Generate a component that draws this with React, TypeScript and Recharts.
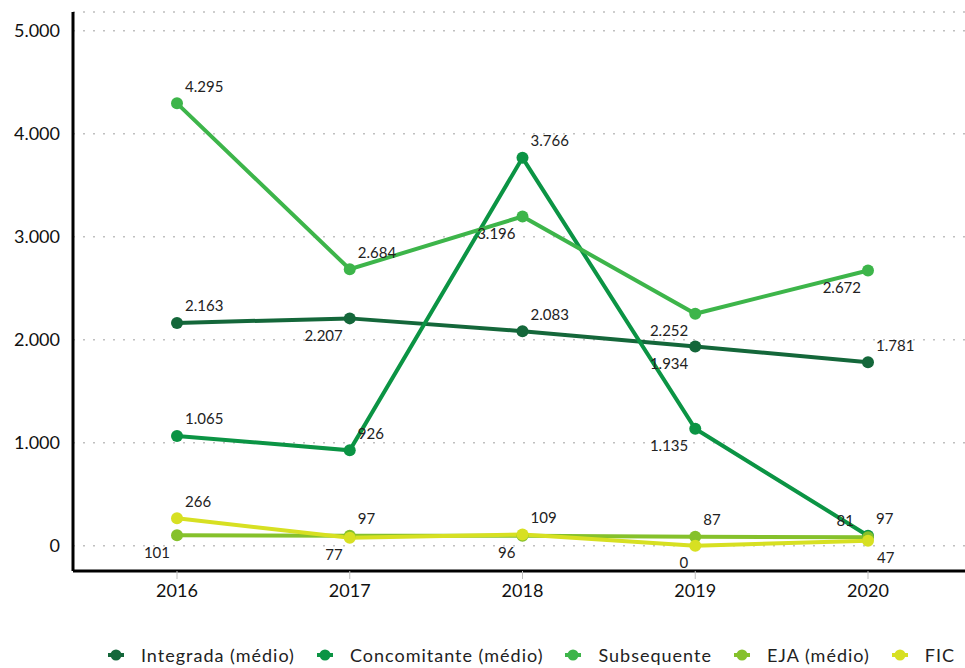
import React from 'react';
import { LineChart, Line, XAxis, YAxis, CartesianGrid, Legend, LabelList } from 'recharts';

const YEARS = ['2016', '2017', '2018', '2019', '2020'];
const INTEGRADA = [2163, 2207, 2083, 1934, 1781];
const CONCOMITANTE = [1065, 926, 3766, 1135, 97];
const SUBSEQUENTE = [4295, 2684, 3196, 2252, 2672];
const EJA = [101, 97, 96, 87, 81];
const FIC = [266, 77, 109, 0, 47];
const Y_TICKS = [0, 1000, 2000, 3000, 4000, 5000];

// label placement (styling): ar = above-right, bl = below-left, al = above-left, br = below-right
const POS_INTEGRADA = ['ar', 'bl', 'ar', 'bl', 'ar'];
const POS_CONCOMITANTE = ['ar', 'ar', 'ar', 'bl', 'ar'];
const POS_SUBSEQUENTE = ['ar', 'ar', 'bl', 'bl', 'bl'];
const POS_EJA = ['bl', 'ar', 'bl', 'ar', 'al'];
const POS_FIC = ['ar', 'bl', 'ar', 'bl', 'br'];

const SERIES = [
  { key: 'integrada', name: 'Integrada (médio)', color: '#14673a', pos: POS_INTEGRADA },
  { key: 'concomitante', name: 'Concomitante (médio)', color: '#0b9444', pos: POS_CONCOMITANTE },
  { key: 'subsequente', name: 'Subsequente', color: '#3db54a', pos: POS_SUBSEQUENTE },
  { key: 'eja', name: 'EJA (médio)', color: '#85c12b', pos: POS_EJA },
  { key: 'fic', name: 'FIC', color: '#d7e022', pos: POS_FIC },
];

const data = YEARS.map((year, i) => ({
  year,
  integrada: INTEGRADA[i],
  concomitante: CONCOMITANTE[i],
  subsequente: SUBSEQUENTE[i],
  eja: EJA[i],
  fic: FIC[i],
}));

const fmt = (v: number) => String(Math.round(v)).replace(/\B(?=(\d{3})+(?!\d))/g, '.');

const makeLabel = (pos: string[]) => (props: any) => {
  const { x, y, value, index } = props;
  const p = pos[index];
  let tx = x + 8;
  let ty = y - 17;
  let anchor: 'start' | 'end' = 'start';
  if (p === 'bl') { tx = x - 7; ty = y + 17; anchor = 'end'; }
  if (p === 'al') { tx = x - 14; ty = y - 17; anchor = 'end'; }
  if (p === 'br') { tx = x + 9; ty = y + 17; anchor = 'start'; }
  return (
    <text x={tx} y={ty} dy={5.5} textAnchor={anchor} fontSize={15} fill="#222" fontFamily="Lato">
      {fmt(value)}
    </text>
  );
};

const LegendContent = () => (
  <div style={{ display: 'flex', justifyContent: 'center', alignItems: 'center', gap: 20, paddingLeft: 96, fontFamily: 'Lato', fontSize: 18, letterSpacing: 1, color: '#222' }}>
    {SERIES.map((s) => (
      <div key={s.key} style={{ display: 'flex', alignItems: 'center' }}>
        <svg width={20} height={12} style={{ marginRight: 15 }}>
          <line x1={2} y1={6} x2={18} y2={6} stroke={s.color} strokeWidth={4} />
          <circle cx={10} cy={6} r={5.5} fill={s.color} />
        </svg>
        <span>{s.name}</span>
      </div>
    ))}
  </div>
);

export default function App() {
  return (
    <div style={{ position: 'absolute', left: 0, top: 0, width: 965, height: 668, background: '#fff', fontFamily: 'Lato' }}>
      <LineChart width={965} height={668} data={data} margin={{ top: 12, right: 0, bottom: 57, left: 0 }}>
        <CartesianGrid vertical={false} stroke="#bfbfbf" strokeWidth={1.5} strokeDasharray="2 8" />
        <XAxis
          dataKey="year"
          padding={{ left: 104, right: 97 }}
          axisLine={{ stroke: '#000', strokeWidth: 3 }}
          tickLine={{ stroke: '#bfbfbf', strokeWidth: 1 }}
          tickSize={8}
          tickMargin={5}
          height={40}
          tick={{ fill: '#111', fontSize: 18, fontFamily: 'Lato' }}
        />
        <YAxis
          width={73}
          domain={[-246, 5182]}
          ticks={Y_TICKS}
          allowDataOverflow
          axisLine={{ stroke: '#000', strokeWidth: 3 }}
          tickLine={false}
          tickSize={0}
          tickMargin={13}
          tickFormatter={fmt}
          tick={{ fill: '#111', fontSize: 18, fontFamily: 'Lato' }}
        />
        <Legend
          layout="vertical"
          align="center"
          verticalAlign="middle"
          wrapperStyle={{ top: 644, left: 0, width: 965 }}
          content={<LegendContent />}
        />
        {SERIES.map((s) => (
          <Line
            key={s.key}
            type="linear"
            dataKey={s.key}
            name={s.name}
            stroke={s.color}
            strokeWidth={4}
            dot={{ r: 6, fill: s.color, stroke: 'none' }}
            activeDot={false}
            isAnimationActive={false}
          >
            <LabelList dataKey={s.key} content={makeLabel(s.pos)} />
          </Line>
        ))}
      </LineChart>
    </div>
  );
}
